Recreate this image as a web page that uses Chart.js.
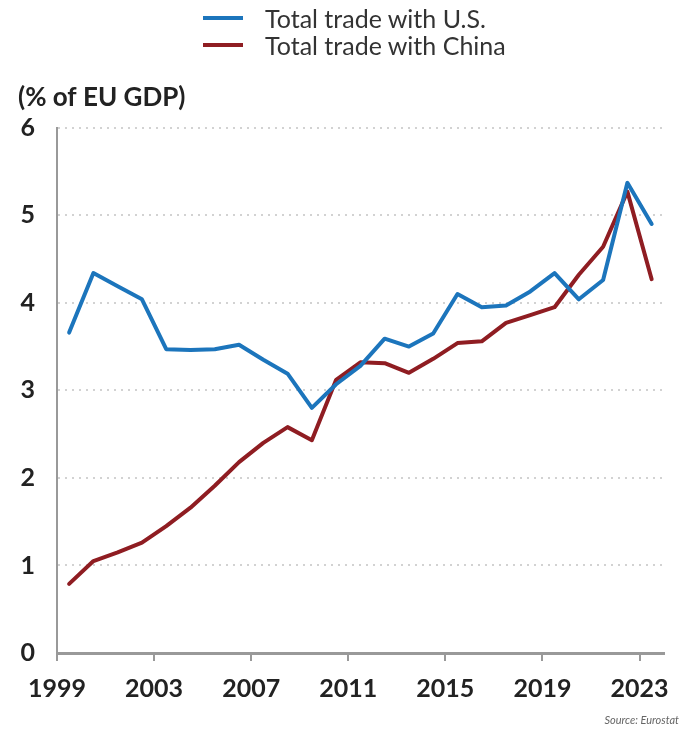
<!DOCTYPE html>
<html>
<head>
<meta charset="utf-8">
<script src="https://cdn.jsdelivr.net/npm/chart.js@4/dist/chart.umd.min.js"></script>
<style>
  body { margin: 0; background: #fff; }
  #wrap { position: relative; width: 682px; height: 731px; }
  #leyenda { position: absolute; left: 203px; top: 4px; font-family: Lato, sans-serif; font-size: 25px; color: #333; }
  #leyenda .item { display: flex; align-items: center; height: 27px; }
  #leyenda .linea { width: 40px; height: 4px; margin-right: 22px; }
  #fuente { position: absolute; right: 3px; top: 713px; font-family: Lato, sans-serif; font-style: italic; font-size: 11px; color: #666; }
</style>
</head>
<body>
<div id="wrap">
  <canvas id="grafico"></canvas>
  <div id="leyenda"></div>
  <div id="fuente">Source: Eurostat</div>
</div>
<script>
// trade as % of EU GDP, one value per year
const years = [1999, 2000, 2001, 2002, 2003, 2004, 2005, 2006, 2007, 2008, 2009, 2010, 2011,
               2012, 2013, 2014, 2015, 2016, 2017, 2018, 2019, 2020, 2021, 2022, 2023];
const tradeUS = [3.66, 4.34, 4.19, 4.04, 3.47, 3.46, 3.47, 3.52, 3.35, 3.19, 2.80, 3.07, 3.28,
                 3.59, 3.50, 3.65, 4.10, 3.95, 3.97, 4.13, 4.34, 4.04, 4.26, 5.37, 4.90];
const tradeChina = [0.79, 1.05, 1.15, 1.26, 1.45, 1.66, 1.91, 2.18, 2.40, 2.58, 2.43, 3.12, 3.32,
                    3.31, 3.20, 3.36, 3.54, 3.56, 3.77, 3.86, 3.95, 4.32, 4.64, 5.27, 4.27];
const yearTicks = [1999, 2003, 2007, 2011, 2015, 2019, 2023];
const seriesNames = ['Total trade with U.S.', 'Total trade with China'];
const colores = ['#1c75bc', '#8f1d22'];

// annual values sit in the middle of their year
const MID = 0.5;
function puntos(serie) {
    return years.map((yr, i) => ({ x: yr + MID, y: serie[i] }));
}

const ctx = document.getElementById('grafico');
const chart = new Chart(ctx, {
    type: 'line',
    data: {
        datasets: [
            { label: seriesNames[0], data: puntos(tradeUS), borderColor: colores[0], backgroundColor: colores[0] },
            { label: seriesNames[1], data: puntos(tradeChina), borderColor: colores[1], backgroundColor: colores[1] },
        ],
    },
    options: {
        responsive: true,
        maintainAspectRatio: false,
        animation: false,
        devicePixelRatio: 1,
        layout: { padding: { top: 82, left: 18, right: 12, bottom: 14 } },
        elements: {
            point: { radius: 0 },
            line: { borderWidth: 4, tension: 0, borderJoinStyle: 'round', borderCapStyle: 'round' },
        },
        plugins: {
            legend: { display: false },
            tooltip: { enabled: false },
            title: {
                display: true,
                text: '(% of EU GDP)',
                align: 'start',
                color: '#222',
                font: { family: 'Lato', size: 26, weight: 'bold' },
                padding: { top: 0, bottom: 14.5 },
            },
        },
        scales: {
            x: {
                type: 'linear',
                min: 1999,
                max: 2024,
                afterBuildTicks: s => { s.ticks = yearTicks.map(v => ({ value: v })); },
                ticks: {
                    callback: v => String(v),
                    color: '#222',
                    font: { family: 'Lato', size: 25, weight: 'bold' },
                    padding: 13,
                    maxRotation: 0,
                    autoSkip: false,
                },
                grid: { drawOnChartArea: false, drawTicks: true, tickLength: 8, color: '#999', lineWidth: 2 },
                border: { color: '#999', width: 3 },
            },
            y: {
                min: 0,
                max: 6,
                ticks: {
                    stepSize: 1,
                    color: '#222',
                    font: { family: 'Lato', size: 25, weight: 'bold' },
                    padding: 22,
                },
                afterFit: s => { s.width = 39; },
                grid: { drawTicks: false, color: '#d2d2d2', lineWidth: 2 },
                border: { color: '#999', width: 2, dash: [2, 5] },
            },
        },
    },
});

// legend stacked in two rows above the plot
const leyenda = document.getElementById('leyenda');
chart.data.datasets.forEach(ds => {
    const item = document.createElement('div');
    item.className = 'item';
    const linea = document.createElement('span');
    linea.className = 'linea';
    linea.style.background = ds.borderColor;
    const texto = document.createElement('span');
    texto.textContent = ds.label;
    item.appendChild(linea);
    item.appendChild(texto);
    leyenda.appendChild(item);
});
</script>
</body>
</html>
